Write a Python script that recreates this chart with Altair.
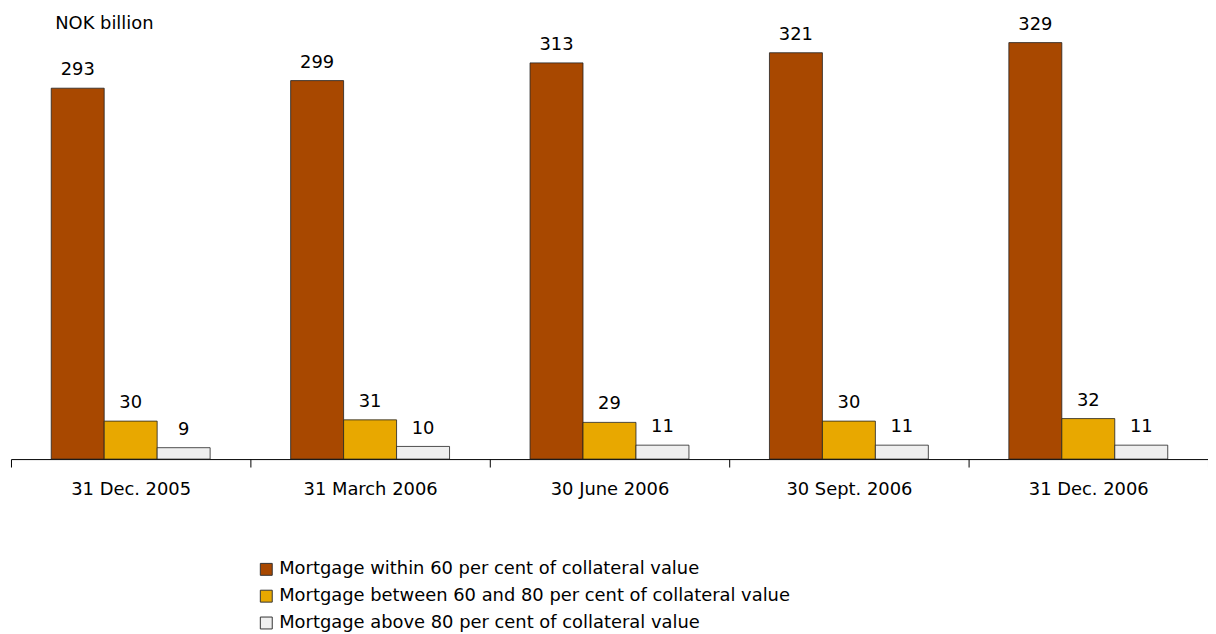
import altair as alt
import pandas as pd

dates = ["31 Dec. 2005", "31 March 2006", "30 June 2006", "30 Sept. 2006", "31 Dec. 2006"]
series = [
    "Mortgage within 60 per cent of collateral value",
    "Mortgage between 60 and 80 per cent of collateral value",
    "Mortgage above 80 per cent of collateral value",
]
within60 = [293, 299, 313, 321, 329]
between60_80 = [30, 31, 29, 30, 32]
above80 = [9, 10, 11, 11, 11]
colors = ["#A84800", "#E8A800", "#EFEFEF"]

rows = []
for i, d in enumerate(dates):
    for s, vals in zip(series, [within60, between60_80, above80]):
        rows.append({"date": d, "series": s, "value": vals[i]})
df = pd.DataFrame(rows)

FONT = "DejaVu Sans"
FS = 18

x = alt.X("date:N", sort=dates,
          scale=alt.Scale(paddingInner=0, paddingOuter=0),
          axis=alt.Axis(title=None, labelAngle=0, tickBand="extent", domainColor="black",
                        tickColor="black", tickSize=8, labelPadding=14, labelFontSize=FS,
                        labelFont=FONT, labelColor="black", domainWidth=1, tickWidth=1))
y = alt.Y("value:Q", scale=alt.Scale(domain=[0, 350], nice=False),
          axis=alt.Axis(title="NOK billion", grid=False, domain=False, labels=False, ticks=False,
                        titleAngle=0, titleAlign="left", titleBaseline="middle",
                        titleX=44, titleY=8, titleFont=FONT, titleFontSize=FS,
                        titleFontWeight="normal", titleColor="black"))
xo = alt.XOffset("series:N", sort=series,
                 scale=alt.Scale(paddingInner=0, paddingOuter=0.76))

bars = alt.Chart(df).mark_bar(stroke="#222222", strokeWidth=0.8).encode(
    x=x, y=y, xOffset=xo,
    color=alt.Color("series:N", sort=series,
                    scale=alt.Scale(domain=series, range=colors),
                    legend=alt.Legend(title=None, orient="none", legendX=248, legendY=548,
                                      labelFont=FONT, labelFontSize=FS, labelColor="black",
                                      labelLimit=800, symbolType="square", symbolSize=144,
                                      symbolStrokeColor="#333333", symbolStrokeWidth=1,
                                      symbolOpacity=1, rowPadding=9)),
)

labels = alt.Chart(df).mark_text(baseline="bottom", dy=-9, font=FONT, fontSize=FS,
                                 color="black").encode(
    x=x, y=y, xOffset=xo, text=alt.Text("value:Q"))

chart = (bars + labels).properties(
    width=1205, height=446,
    autosize=alt.AutoSizeParams(type="none"),
    padding={"left": 3, "top": 6, "right": 0, "bottom": 176},
).configure_view(stroke=None)

chart.save("out.html", embed_options={"renderer": "svg", "actions": False})
